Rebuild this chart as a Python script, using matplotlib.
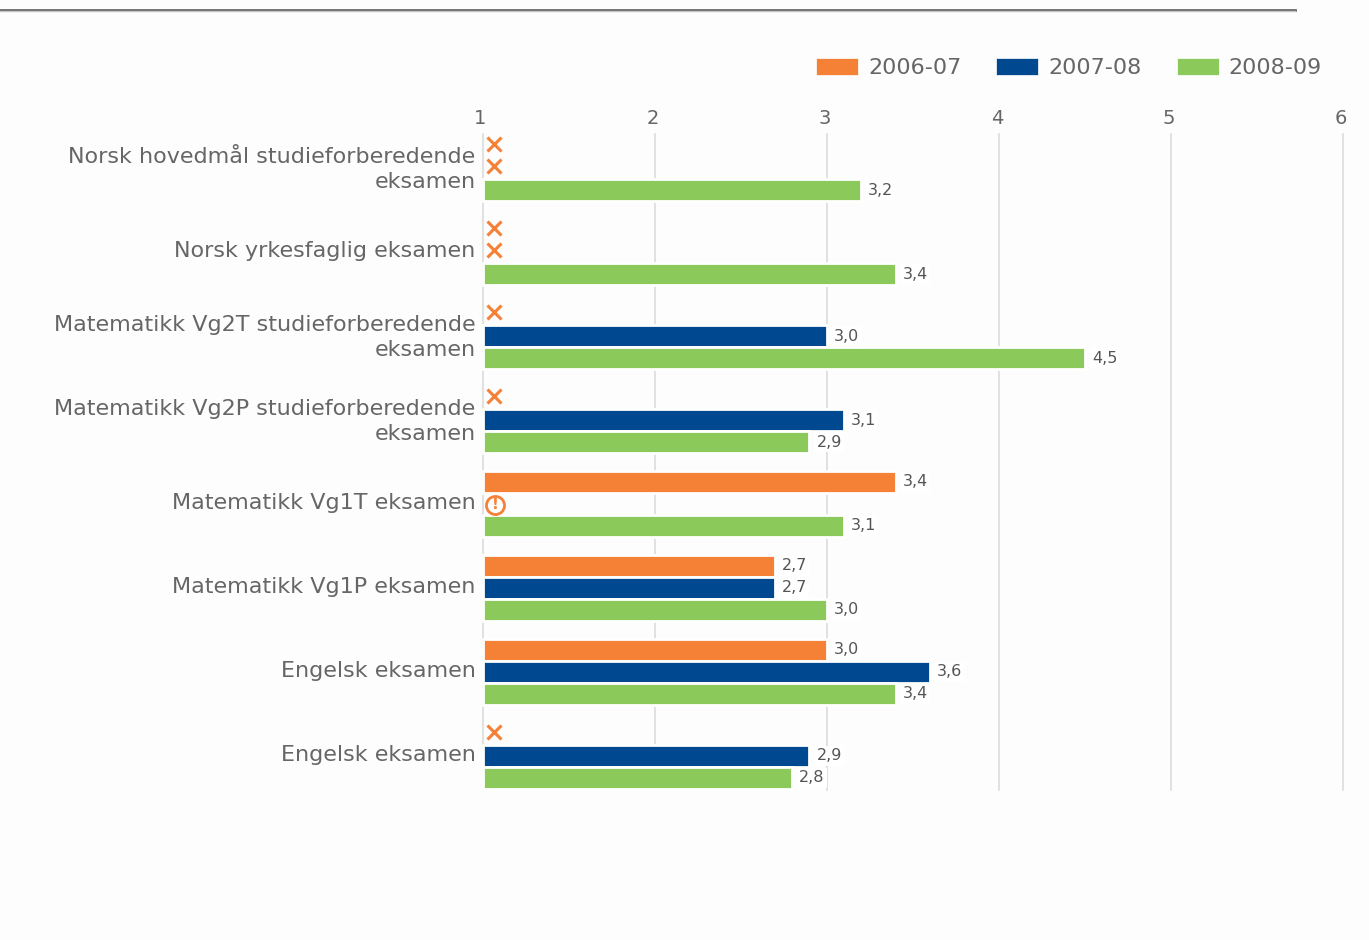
import numpy as np
import matplotlib
matplotlib.use("Agg")
import matplotlib.pyplot as plt
from matplotlib.patches import Patch
from matplotlib.transforms import Affine2D, offset_copy

# Kategorier og verdier lest av bildet (nan = ikke vist)
kategorier = [
    "Norsk hovedmål studieforberedende\neksamen",
    "Norsk yrkesfaglig eksamen",
    "Matematikk Vg2T studieforberedende\neksamen",
    "Matematikk Vg2P studieforberedende\neksamen",
    "Matematikk Vg1T eksamen",
    "Matematikk Vg1P eksamen",
    "Engelsk eksamen",
    "Engelsk eksamen",
]
aar = ["2006-07", "2007-08", "2008-09"]
v2006 = [np.nan, np.nan, np.nan, np.nan, 3.4, 2.7, 3.0, np.nan]
v2007 = [np.nan, np.nan, 3.0, 3.1, np.nan, 2.7, 3.6, 2.9]
v2008 = [3.2, 3.4, 4.5, 2.9, 3.1, 3.0, 3.4, 2.8]
farger = ["#f58137", "#00488f", "#8bc95a"]
# kategori 4 (Vg1T) har varsel i stedet for kryss for 2007-08
varsel = [(4, 1)]

W, H = 1369, 940
tekst = "#666666"

fig = plt.figure(figsize=(W / 100, H / 100), dpi=100, facecolor="#fdfdfd")
ax = fig.add_axes([482.5 / W, 1 - 790 / H, (1343 - 482.5) / W, (790 - 134) / H])
ax.set_facecolor("none")
ax.set_xlim(1, 6)
ax.set_ylim(7.405, -0.405)

for s in ax.spines.values():
    s.set_visible(False)
ax.xaxis.tick_top()
ax.set_xticks([1, 2, 3, 4, 5, 6])
ax.grid(axis="x", color="#dcdcdc", lw=1.2, zorder=0, clip_on=False)
ax.tick_params(axis="x", length=0, pad=4, labelsize=14, labelcolor=tekst)
ax.tick_params(axis="y", length=0, pad=5, labelsize=16, labelcolor=tekst)
ax.set_yticks(range(len(kategorier)))
ax.set_yticklabels(kategorier, ha="right", multialignment="right", linespacing=1.32)
for lab in ax.get_yticklabels():
    lab.set_transform(lab.get_transform() + Affine2D().translate(0, 3))
for lab in ax.get_xticklabels():
    lab.set_transform(lab.get_transform() + Affine2D().translate(-2, 0))

h = 22 / 84
pos = np.arange(len(kategorier))
kryss_tr = offset_copy(ax.transData, fig=fig, x=11.5, y=0, units="dots")
varsel_tr = offset_copy(ax.transData, fig=fig, x=12.5, y=0, units="dots")

for i, serie in enumerate([v2006, v2007, v2008]):
    y = pos + (i - 1) * h
    verdier = np.array(serie)
    ok = ~np.isnan(verdier)
    ax.barh(y[ok], verdier[ok] - 1, left=1, height=h, color=farger[i],
            edgecolor="white", lw=2, zorder=3, clip_on=False)
    for yy, v, har in zip(y, verdier, ok):
        if har:
            ax.annotate(f"{v:.1f}".replace(".", ","), (v, yy), xytext=(5, 0),
                        textcoords="offset points", va="center", ha="left",
                        fontsize=11.5, color="#555555", zorder=4,
                        bbox=dict(fc="white", ec="none", pad=1.5))
        elif (int(round(yy + (1 - i) * h)), i) not in varsel:
            ax.plot([1], [yy - 2 / 84], marker="x", ms=10, mew=2.2, color=farger[0],
                    transform=kryss_tr, zorder=5, clip_on=False)
        else:
            ax.plot([1], [yy + 1 / 84], marker="o", ms=13, mfc="white", mew=2,
                    color=farger[0], transform=varsel_tr, zorder=5, clip_on=False)
            ax.text(1, yy + 1 / 84, "!", transform=varsel_tr, color=farger[0],
                    fontsize=11, fontweight="bold", ha="center", va="center", zorder=6)

# Linje øverst
fig.add_artist(plt.Line2D([0, 1295 / W], [1 - 9.5 / H] * 2, color="#666666", lw=2))
fig.add_artist(plt.Line2D([0, 1295 / W], [1 - 11 / H] * 2, color="#c4c4c4", lw=1))

handles = [Patch(facecolor=f, edgecolor="white", lw=0.5) for f in farger]
fig.legend(handles, aar, loc="center right", bbox_to_anchor=(1322 / W, 1 - 68 / H),
           ncol=3, frameon=False, fontsize=16, labelcolor=tekst, handlelength=1.89,
           handleheight=0.77, handletextpad=0.45, columnspacing=1.58,
           borderpad=0, borderaxespad=0)

fig.savefig("out.png", dpi=100, facecolor=fig.get_facecolor())
